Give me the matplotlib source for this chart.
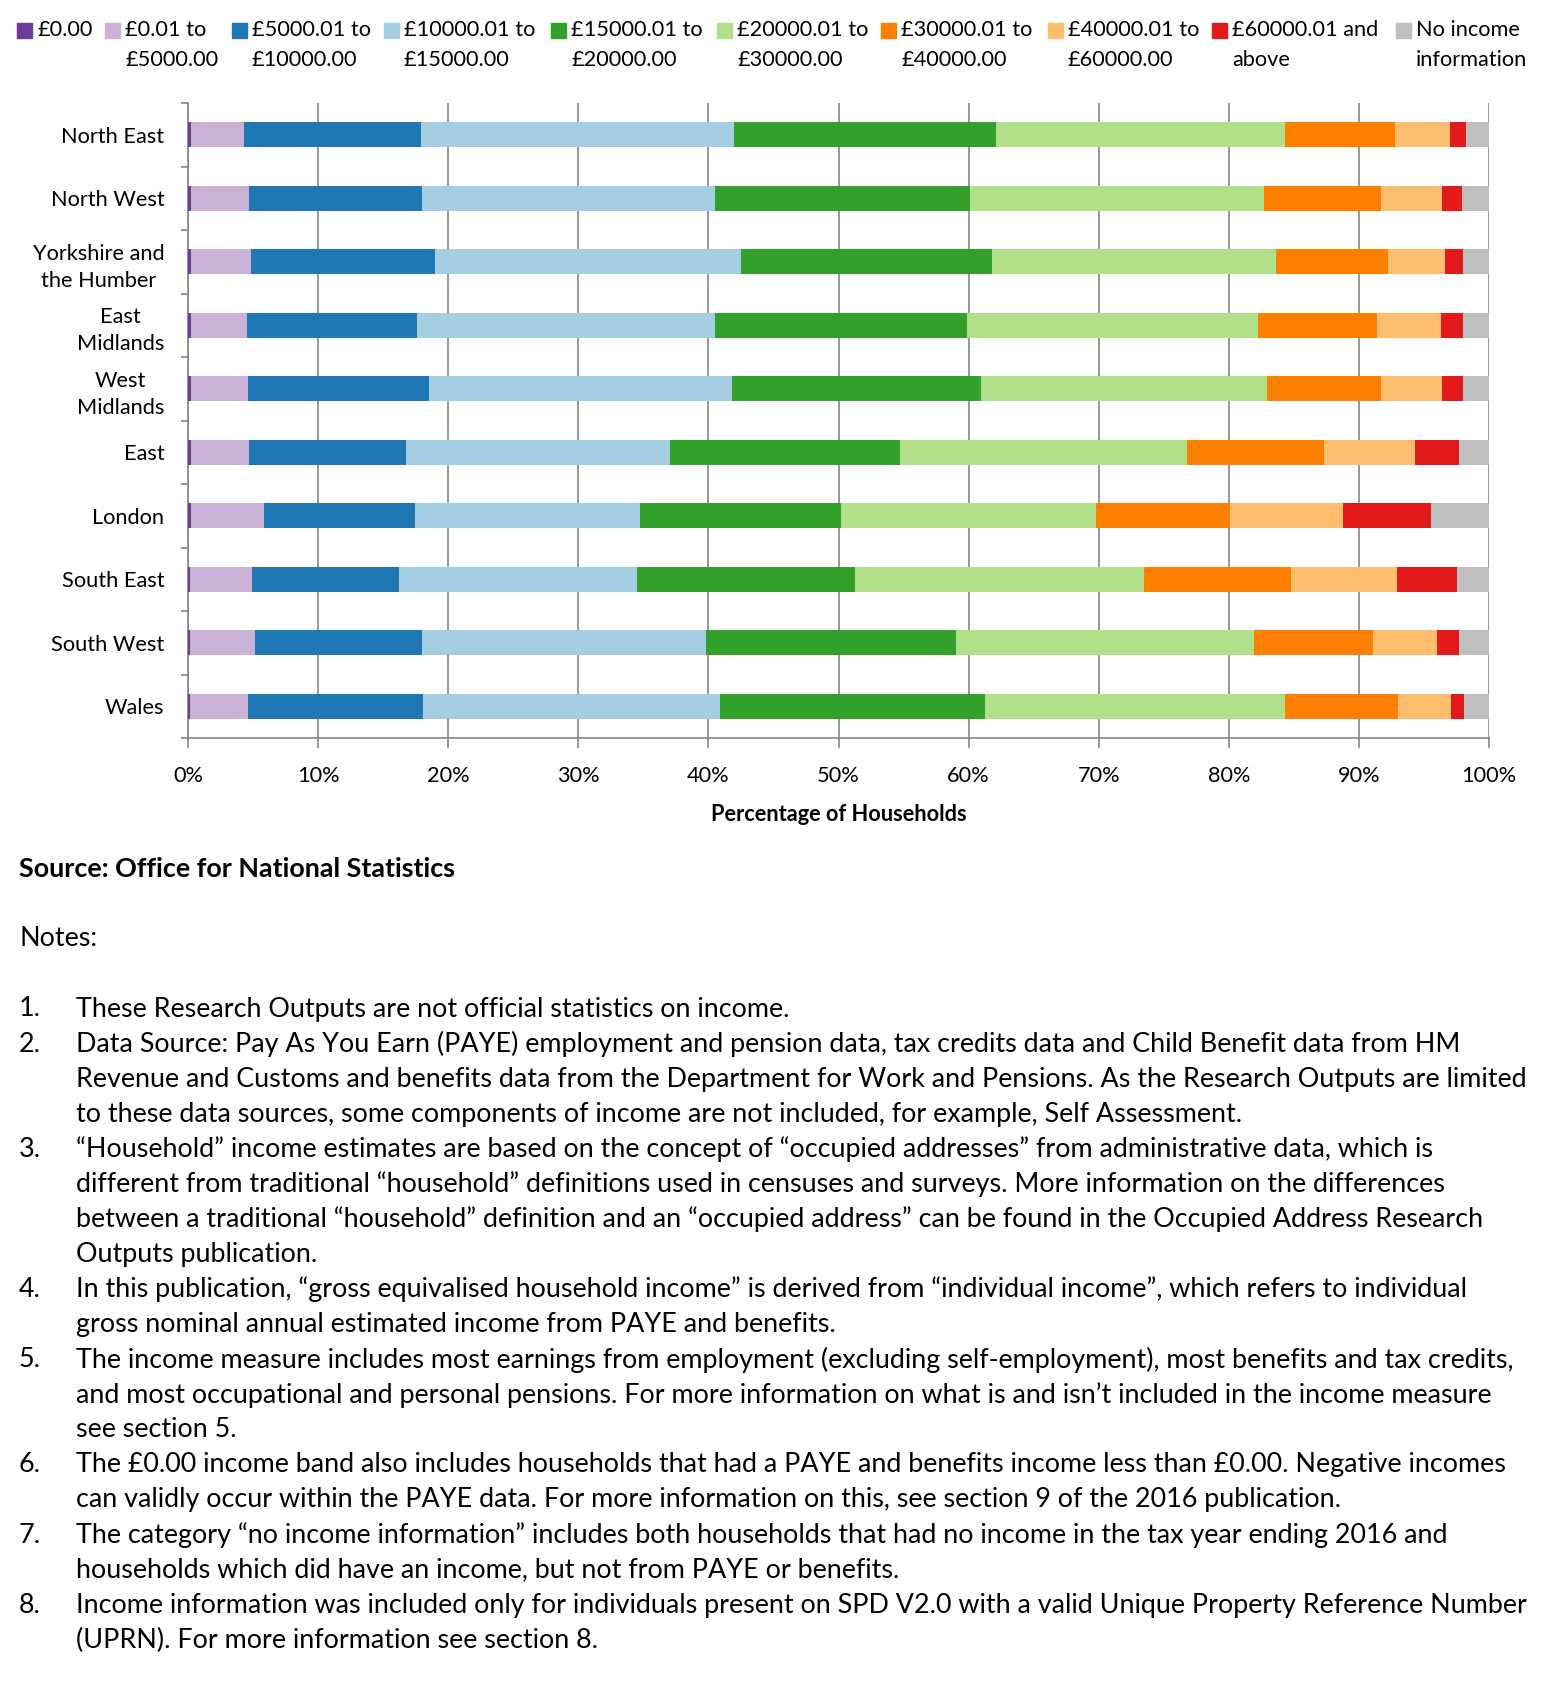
import numpy as np
import matplotlib
matplotlib.use('Agg')
import matplotlib.pyplot as plt
from matplotlib.patches import Rectangle

plt.rcParams['font.family'] = ['Lato', 'DejaVu Sans']

# regions, top to bottom
regions = ['North East', 'North West', 'Yorkshire and\nthe Humber', 'East\nMidlands',
           'West\nMidlands', 'East', 'London', 'South East', 'South West', 'Wales']

bands = ['£0.00', '£0.01 to\n£5000.00', '£5000.01 to\n£10000.00', '£10000.01 to\n£15000.00',
         '£15000.01 to\n£20000.00', '£20000.01 to\n£30000.00', '£30000.01 to\n£40000.00',
         '£40000.01 to\n£60000.00', '£60000.01 and\nabove', 'No income\ninformation']
colors = ['#6a3d9a', '#cab2d6', '#1f78b4', '#a6cee3', '#33a02c',
          '#b2df8a', '#ff7f00', '#fdbf6f', '#e31a1c', '#bfbfbf']

# percentage of households in each band
band_0 = [0.20, 0.20, 0.20, 0.20, 0.20, 0.20, 0.25, 0.15, 0.15, 0.15]
band_5k = [4.07, 4.47, 4.62, 4.31, 4.39, 4.47, 5.63, 4.75, 4.99, 4.44]
band_10k = [13.61, 13.29, 14.16, 13.06, 13.92, 12.08, 11.53, 11.30, 12.82, 13.45]
band_15k = [24.08, 22.51, 23.49, 22.90, 23.29, 20.27, 17.37, 18.35, 21.84, 22.82]
band_20k = [20.17, 19.66, 19.35, 19.43, 19.18, 17.74, 15.41, 16.72, 19.26, 20.43]
band_30k = [22.19, 22.54, 21.81, 22.31, 21.92, 22.00, 19.58, 22.18, 22.84, 23.03]
band_40k = [8.44, 9.02, 8.60, 9.17, 8.79, 10.55, 10.29, 11.33, 9.17, 8.68]
band_60k = [4.23, 4.68, 4.37, 4.92, 4.68, 6.99, 8.71, 8.14, 4.92, 4.07]
band_60k_plus = [1.26, 1.54, 1.39, 1.69, 1.62, 3.38, 6.76, 4.61, 1.69, 0.99]
band_none = [1.75, 2.09, 2.01, 2.01, 2.01, 2.32, 4.47, 2.47, 2.32, 1.94]
series = [band_0, band_5k, band_10k, band_15k, band_20k,
          band_30k, band_40k, band_60k, band_60k_plus, band_none]

notes = [
    ('1.', ['These Research Outputs are not official statistics on income.']),
    ('2.', ['Data Source: Pay As You Earn (PAYE) employment and pension data, tax credits data and Child Benefit data from HM',
            'Revenue and Customs and benefits data from the Department for Work and Pensions. As the Research Outputs are limited',
            'to these data sources, some components of income are not included, for example, Self Assessment.']),
    ('3.', ['\u201cHousehold\u201d income estimates are based on the concept of \u201coccupied addresses\u201d from administrative data, which is',
            'different from traditional \u201chousehold\u201d definitions used in censuses and surveys. More information on the differences',
            'between a traditional \u201chousehold\u201d definition and an \u201coccupied address\u201d can be found in the Occupied Address Research',
            'Outputs publication.']),
    ('4.', ['In this publication, \u201cgross equivalised household income\u201d is derived from \u201cindividual income\u201d, which refers to individual',
            'gross nominal annual estimated income from PAYE and benefits.']),
    ('5.', ['The income measure includes most earnings from employment (excluding self-employment), most benefits and tax credits,',
            'and most occupational and personal pensions. For more information on what is and isn\u2019t included in the income measure',
            'see section 5.']),
    ('6.', ['The £0.00 income band also includes households that had a PAYE and benefits income less than £0.00. Negative incomes',
            'can validly occur within the PAYE data. For more information on this, see section 9 of the 2016 publication.']),
    ('7.', ['The category \u201cno income information\u201d includes both households that had no income in the tax year ending 2016 and',
            'households which did have an income, but not from PAYE or benefits.']),
    ('8.', ['Income information was included only for individuals present on SPD V2.0 with a valid Unique Property Reference Number',
            '(UPRN). For more information see section 8.']),
]

W, H = 1562, 1698
fig = plt.figure(figsize=(W / 100, H / 100), dpi=100)


def fx(x):
    return x / W


def fy(y):
    return 1 - y / H


grid_col = '#868686'
fs_chart = 15.7
fs_notes = 19.4

ax = fig.add_axes([fx(188), fy(738), (1489 - 188) / W, (738 - 103) / H])
y = np.arange(len(regions))
left = np.zeros(len(regions))
for vals, col, lab in zip(series, colors, bands):
    ax.barh(y, vals, left=left, height=0.4, color=col, label=lab, zorder=3)
    left += np.array(vals)

ax.set_xlim(0, 100)
ax.set_ylim(len(regions) - 0.5, -0.5)
ax.set_xticks(np.arange(0, 101, 10))
ax.set_xticklabels([f'{v}%' for v in range(0, 101, 10)], fontsize=fs_chart)
ax.set_yticks(y)
ax.set_yticklabels(regions, fontsize=fs_chart)
for lab in ax.get_yticklabels():
    lab.set_multialignment('center')
    lab.set_linespacing(1.45)
ax.set_yticks(np.arange(-0.5, len(regions), 1), minor=True)
ax.tick_params(axis='y', which='major', length=0, pad=17)
ax.tick_params(axis='y', which='minor', length=5, color=grid_col, width=1.2)
ax.tick_params(axis='x', length=7, color=grid_col, width=1.2, pad=13)
ax.grid(axis='x', color=grid_col, linewidth=1.2, zorder=0)
for s in ['top', 'right']:
    ax.spines[s].set_visible(False)
for s in ['left', 'bottom']:
    ax.spines[s].set_color(grid_col)
    ax.spines[s].set_linewidth(1.2)
ax.set_xlabel('Percentage of Households', fontsize=fs_chart, fontweight='bold', labelpad=13)

# legend drawn by hand: a square, then the label on two lines
leg_x = [17, 105, 232, 384, 551, 717, 881, 1048, 1212, 1396]
for lx, col, lab in zip(leg_x, colors, bands):
    fig.patches.append(Rectangle((fx(lx), fy(37.5)), 15 / W, 15 / H, color=col,
                                 transform=fig.transFigure, figure=fig))
    for i, line in enumerate(lab.split('\n')):
        fig.text(fx(lx + 20), fy(30 + 30 * i), line, fontsize=fs_chart, va='center')

fig.text(fx(19), fy(869), 'Source: Office for National Statistics', fontsize=fs_notes,
         fontweight='bold', va='center')
fig.text(fx(19), fy(938), 'Notes:', fontsize=fs_notes, va='center')

row = 0
for num, lines in notes:
    fig.text(fx(19), fy(1009 + 35.07 * row), num, fontsize=fs_notes, va='center')
    for line in lines:
        fig.text(fx(76), fy(1009 + 35.07 * row), line, fontsize=fs_notes, va='center')
        row += 1

fig.savefig('out.png', dpi=100, facecolor='white')
